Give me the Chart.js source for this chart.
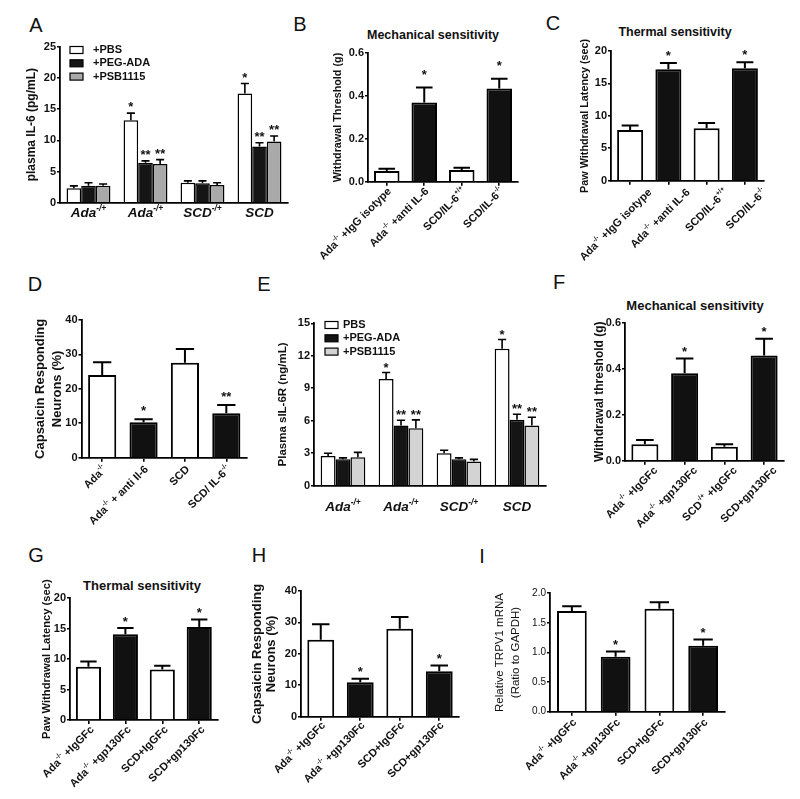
<!DOCTYPE html>
<html lang="en">
<head>
    <meta charset="UTF-8">
    <title>IL-6 signalling panels</title>
    <script src="https://cdn.jsdelivr.net/npm/chart.js"></script>
    <style>
        body { margin: 0; background: #fff; }
        #fig {
            position: relative;
            width: 800px;
            height: 799px;
            background: #fff;
            font-family: 'Liberation Sans', Arial, sans-serif;
            color: #111;
            overflow: hidden;
        }
        #fig canvas { position: absolute; }
        .letter { position: absolute; font-size: 20px; transform: translate(-50%, -50%); }
        .ptitle { position: absolute; font-weight: bold; white-space: nowrap; transform: translate(-50%, -50%); }
    </style>
</head>
<body>
<div id="fig">
    <!-- panel letters -->
    <div class="letter" style="left:36px;top:25px">A</div>
    <div class="letter" style="left:300px;top:24px">B</div>
    <div class="letter" style="left:553px;top:23px">C</div>
    <div class="letter" style="left:35px;top:284px">D</div>
    <div class="letter" style="left:264px;top:284px">E</div>
    <div class="letter" style="left:559px;top:282px">F</div>
    <div class="letter" style="left:36px;top:555px">G</div>
    <div class="letter" style="left:259px;top:555px">H</div>
    <div class="letter" style="left:482px;top:556px">I</div>

    <!-- panel titles -->
    <div class="ptitle" style="left:433px;top:35px;font-size:12.5px">Mechanical sensitivity</div>
    <div class="ptitle" style="left:675px;top:32px;font-size:12.5px">Thermal sensitivity</div>
    <div class="ptitle" style="left:695px;top:305px;font-size:13px">Mechanical sensitivity</div>
    <div class="ptitle" style="left:142px;top:585px;font-size:13px">Thermal sensitivity</div>
</div>

<script>
    // ---- data ----
    // A: plasma IL-6
    var groupLabels = ['Ada^{-/+}', 'Ada^{-/+}', 'SCD^{-/+}', 'SCD'];
    var aPbs = [2.3, 13.2, 3.2, 17.5];
    var aPbsErr = [0.4, 1.15, 0.3, 1.6];
    var aPeg = [2.7, 6.4, 3.1, 9.0];
    var aPegErr = [0.5, 0.3, 0.4, 0.6];
    var aPsb = [2.7, 6.2, 2.85, 9.8];
    var aPsbErr = [0.3, 0.7, 0.35, 0.9];
    var aPbsStars = ['', '*', '', '*'];
    var aDrugStars = ['', '**', '', '**'];

    // B + C: anti IL-6 / IL-6 knockout
    var il6Labels = ['Ada^{-/-} +IgG isotype', 'Ada^{-/-} +anti IL-6', 'SCD/IL-6^{+/+}', 'SCD/IL-6^{-/-}'];
    var bVals = [0.05, 0.37, 0.055, 0.436];
    var bErr = [0.011, 0.07, 0.01, 0.045];
    var cVals = [7.8, 17.2, 8.1, 17.35];
    var cErr = [0.7, 0.95, 0.8, 0.9];
    var oddStars = ['', '*', '', '*'];

    // D: capsaicin responding neurons
    var dLabels = ['Ada^{-/-}', 'Ada^{-/-} + anti Il-6', 'SCD', 'SCD/ IL-6^{-/-}'];
    var dVals = [24.0, 10.3, 27.6, 12.9];
    var dErr = [3.7, 0.9, 4.0, 2.4];
    var dStars = ['', '*', '', '**'];

    // E: plasma sIL-6R
    var ePbs = [2.75, 9.85, 3.0, 12.65];
    var ePbsErr = [0.25, 0.6, 0.28, 0.85];
    var ePeg = [2.45, 5.55, 2.45, 6.1];
    var ePegErr = [0.12, 0.5, 0.12, 0.5];
    var ePsb = [2.63, 5.3, 2.23, 5.55];
    var ePsbErr = [0.45, 0.78, 0.2, 0.77];

    // F - I: gp130Fc
    var fLabels = ['Ada^{-/-} +IgGFc', 'Ada^{-/-} +gp130Fc', 'SCD^{-/+} +IgGFc', 'SCD+gp130Fc'];
    var gpLabels = ['Ada^{-/-} +IgGFc', 'Ada^{-/-} +gp130Fc', 'SCD+IgGFc', 'SCD+gp130Fc'];
    var fVals = [0.071, 0.38, 0.061, 0.457];
    var fErr = [0.019, 0.064, 0.011, 0.073];
    var gVals = [8.75, 14.1, 8.3, 15.3];
    var gErr = [0.85, 1.0, 0.6, 1.2];
    var hVals = [24.5, 11.0, 28.0, 14.5];
    var hErr = [4.9, 1.1, 3.7, 1.8];
    var iVals = [1.70, 0.93, 1.74, 1.115];
    var iErr = [0.08, 0.085, 0.11, 0.105];

    var FONT = '"Liberation Sans", Arial, sans-serif';
    Chart.defaults.font.family = FONT;
    Chart.defaults.color = '#111';

    // split "Ada^{-/-} +x" into normal / superscript runs
    function splitSup(s) {
        var parts = [], re = /\^\{([^}]*)\}/g, last = 0, m;
        while ((m = re.exec(s)) !== null) {
            if (m.index > last) parts.push({t: s.slice(last, m.index), sup: false});
            parts.push({t: m[1], sup: true});
            last = re.lastIndex;
        }
        if (last < s.length) parts.push({t: s.slice(last), sup: false});
        return parts;
    }

    function drawRich(ctx, text, style, size, align) {
        var parts = splitSup(text);
        var supSize = size * 0.62;
        var total = 0;
        parts.forEach(function(p) {
            ctx.font = style + ' ' + (p.sup ? supSize : size) + 'px ' + FONT;
            p.w = ctx.measureText(p.t).width;
            total += p.w;
        });
        var x = align === 'right' ? -total : -total / 2;
        ctx.textAlign = 'left';
        parts.forEach(function(p) {
            ctx.font = style + ' ' + (p.sup ? supSize : size) + 'px ' + FONT;
            ctx.fillText(p.t, x, p.sup ? -size * 0.38 : 0);
            x += p.w;
        });
    }

    // error bars (upper only), asterisks, category labels and legend
    var extrasPlugin = {
        id: 'panelExtras',
        afterDatasetsDraw: function(chart, args, opts) {
            var ctx = chart.ctx, yS = chart.scales.y, xS = chart.scales.x, area = chart.chartArea;
            ctx.save();
            ctx.fillStyle = '#111';
            chart.data.datasets.forEach(function(ds, di) {
                var meta = chart.getDatasetMeta(di);
                meta.data.forEach(function(bar, i) {
                    var top = yS.getPixelForValue(ds.data[i] + ds.errorBars[i]);
                    var half = bar.width * opts.capRatio / 2;
                    ctx.strokeStyle = '#000';
                    ctx.lineWidth = opts.errWidth;
                    ctx.beginPath();
                    ctx.moveTo(bar.x, bar.y);
                    ctx.lineTo(bar.x, top);
                    ctx.moveTo(bar.x - half, top);
                    ctx.lineTo(bar.x + half, top);
                    ctx.stroke();
                    if (ds.stars && ds.stars[i]) {
                        ctx.font = 'bold 13px ' + FONT;
                        ctx.textAlign = 'center';
                        ctx.textBaseline = 'alphabetic';
                        ctx.fillText(ds.stars[i], bar.x, top - opts.starLift);
                    }
                });
            });

            var xl = opts.xlab;
            ctx.textBaseline = 'middle';
            chart.data.labels.forEach(function(lab, i) {
                var cx = xS.getPixelForValue(i);
                ctx.save();
                if (xl.rotate) {
                    ctx.translate(cx + xl.dx, area.bottom + xl.dy);
                    ctx.rotate(-Math.PI / 4);
                    drawRich(ctx, lab, xl.style, xl.size, 'right');
                } else {
                    ctx.translate(cx, area.bottom + xl.dy);
                    drawRich(ctx, lab, xl.style, xl.size, 'center');
                }
                ctx.restore();
            });

            if (opts.legend) {
                var lg = opts.legend;
                chart.data.datasets.forEach(function(ds, di) {
                    var bx = area.left + lg.dx, by = area.top + lg.dy + di * lg.rowH;
                    ctx.fillStyle = ds.backgroundColor;
                    ctx.fillRect(bx, by - 3.5, 13, 7);
                    ctx.strokeStyle = '#000';
                    ctx.lineWidth = 1.2;
                    ctx.strokeRect(bx, by - 3.5, 13, 7);
                    ctx.fillStyle = '#111';
                    ctx.font = 'bold 11px ' + FONT;
                    ctx.textAlign = 'left';
                    ctx.textBaseline = 'middle';
                    ctx.fillText(ds.label, bx + 13 + lg.gap, by);
                });
            }
            ctx.restore();
        }
    };

    // one chart per panel; plot = wanted plot-area edges in page pixels
    function makePanel(cfg) {
        var box = cfg.box, plot = cfg.plot;
        var cv = document.createElement('canvas');
        cv.width = box.r - box.l;
        cv.height = box.b - box.t;
        cv.style.left = box.l + 'px';
        cv.style.top = box.t + 'px';
        document.getElementById('fig').appendChild(cv);

        var tf = cfg.yTitle;
        var lh = tf.size * tf.lh;
        var tickFont = cfg.tickFont || {size: 11, weight: 'bold'};

        new Chart(cv, {
            type: 'bar',
            data: {labels: cfg.labels, datasets: cfg.datasets},
            options: {
                responsive: false,
                animation: false,
                events: [],
                layout: {padding: {left: 0, top: plot.y0 - box.t, right: box.r - plot.x1, bottom: 0}},
                scales: {
                    x: {
                        offset: true,
                        grid: {display: true, offset: false, drawOnChartArea: false, drawTicks: cfg.xTicks, tickLength: 4, color: '#000', lineWidth: 1.6},
                        border: {color: '#000', width: 1.8},
                        ticks: {display: false},
                        afterFit: function(s) { s.height = box.b - plot.y1; }
                    },
                    y: {
                        min: 0,
                        max: cfg.yMax,
                        grid: {drawOnChartArea: false, drawTicks: true, tickLength: 3, color: '#000', lineWidth: 1.6},
                        border: {color: '#000', width: 1.8},
                        ticks: {
                            stepSize: cfg.yStep,
                            padding: 1,
                            color: '#111',
                            font: tickFont,
                            callback: function(v) { return cfg.yDec ? v.toFixed(cfg.yDec) : v; }
                        },
                        title: {
                            display: true,
                            text: tf.text,
                            color: '#111',
                            font: {size: tf.size, weight: tf.weight, lineHeight: tf.lh},
                            padding: {top: tf.x - box.l - lh / 2, bottom: 0}
                        },
                        afterFit: function(s) { s.width = plot.x0 - box.l; }
                    }
                },
                plugins: {
                    legend: {display: false},
                    tooltip: {enabled: false},
                    panelExtras: cfg.extras
                }
            },
            plugins: [extrasPlugin]
        });
    }

    function pairedBars(vals, errs, stars) {
        return [{
            data: vals,
            errorBars: errs,
            stars: stars,
            backgroundColor: ['#ffffff', '#111111', '#ffffff', '#111111'],
            borderColor: '#000',
            borderWidth: 2,
            barPercentage: 0.68,
            categoryPercentage: 1
        }];
    }

    function groupSet(label, vals, errs, stars, colour) {
        return {
            label: label,
            data: vals,
            errorBars: errs,
            stars: stars,
            backgroundColor: colour,
            borderColor: '#000',
            borderWidth: 1.5,
            barPercentage: 1,
            categoryPercentage: 0.77
        };
    }

    var rotLab = function(dx, dy) { return {rotate: true, dx: dx, dy: dy, size: 11, style: 'bold'}; };

    // A
    makePanel({
        box: {l: 10, t: 30, r: 295, b: 228},
        plot: {x0: 60, x1: 288, y0: 46.7, y1: 202.7},
        labels: groupLabels,
        datasets: [
            groupSet('+PBS', aPbs, aPbsErr, aPbsStars, '#ffffff'),
            groupSet('+PEG-ADA', aPeg, aPegErr, aDrugStars, '#151515'),
            groupSet('+PSB1115', aPsb, aPsbErr, aDrugStars, '#a9a9a9')
        ],
        yMax: 25, yStep: 5, xTicks: false,
        yTitle: {text: 'plasma IL-6 (pg/mL)', size: 12, weight: 'bold', lh: 1.2, x: 32},
        extras: {capRatio: 0.55, errWidth: 1.6, starLift: 2,
                 xlab: {rotate: false, dy: 11, size: 13.5, style: 'bold italic'},
                 legend: {dx: 10, dy: 3.3, rowH: 13.3, gap: 10}}
    });

    // B
    makePanel({
        box: {l: 300, t: 40, r: 525, b: 265},
        plot: {x0: 368, x1: 518, y0: 53.3, y1: 181.7},
        labels: il6Labels,
        datasets: pairedBars(bVals, bErr, oddStars),
        yMax: 0.6, yStep: 0.2, yDec: 1, xTicks: true,
        yTitle: {text: 'Withdrawal Threshold (g)', size: 10.8, weight: 'bold', lh: 1.2, x: 338},
        extras: {capRatio: 0.65, errWidth: 2, starLift: 9, xlab: rotLab(3, 8)}
    });

    // C
    makePanel({
        box: {l: 545, t: 38, r: 775, b: 265},
        plot: {x0: 611, x1: 764, y0: 51, y1: 180.7},
        labels: il6Labels,
        datasets: pairedBars(cVals, cErr, oddStars),
        yMax: 20, yStep: 5, xTicks: true,
        yTitle: {text: 'Paw Withdrawal Latency (sec)', size: 10.8, weight: 'bold', lh: 1.2, x: 585},
        extras: {capRatio: 0.65, errWidth: 2, starLift: 3, xlab: rotLab(20, 10)}
    });

    // D
    makePanel({
        box: {l: 10, t: 300, r: 255, b: 535},
        plot: {x0: 81.5, x1: 247, y0: 320, y1: 457.7},
        labels: dLabels,
        datasets: pairedBars(dVals, dErr, dStars),
        yMax: 40, yStep: 10, xTicks: true,
        yTitle: {text: ['Capsaicin Responding', 'Neurons (%)'], size: 13, weight: 'bold', lh: 1.28, x: 40.7},
        extras: {capRatio: 0.65, errWidth: 2, starLift: 4, xlab: rotLab(3, 10)}
    });

    // E
    makePanel({
        box: {l: 265, t: 300, r: 555, b: 525},
        plot: {x0: 314, x1: 546, y0: 323.3, y1: 485.7},
        labels: groupLabels,
        datasets: [
            groupSet('PBS', ePbs, ePbsErr, aPbsStars, '#ffffff'),
            groupSet('+PEG-ADA', ePeg, ePegErr, aDrugStars, '#151515'),
            groupSet('+PSB1115', ePsb, ePsbErr, aDrugStars, '#d3d3d3')
        ],
        yMax: 15, yStep: 3, xTicks: false,
        yTitle: {text: 'Plasma sIL-6R (ng/mL)', size: 11.5, weight: 'bold', lh: 1.2, x: 283},
        extras: {capRatio: 0.55, errWidth: 1.6, starLift: 1,
                 xlab: {rotate: false, dy: 22, size: 13.5, style: 'bold italic'},
                 legend: {dx: 11, dy: 1.7, rowH: 13.3, gap: 5}}
    });

    // F
    makePanel({
        box: {l: 560, t: 300, r: 795, b: 545},
        plot: {x0: 625, x1: 784, y0: 322.7, y1: 460.7},
        labels: fLabels,
        datasets: pairedBars(fVals, fErr, oddStars),
        yMax: 0.6, yStep: 0.2, yDec: 1, xTicks: true,
        yTitle: {text: 'Withdrawal threshold (g)', size: 12, weight: 'bold', lh: 1.2, x: 600},
        extras: {capRatio: 0.65, errWidth: 2, starLift: 2.5, xlab: rotLab(11, 8)}
    });

    // G
    makePanel({
        box: {l: 10, t: 575, r: 230, b: 795},
        plot: {x0: 70, x1: 217.7, y0: 598.3, y1: 720},
        labels: gpLabels,
        datasets: pairedBars(gVals, gErr, oddStars),
        yMax: 20, yStep: 5, xTicks: true,
        yTitle: {text: 'Paw Withdrawal Latency (sec)', size: 11.2, weight: 'bold', lh: 1.2, x: 46.7},
        extras: {capRatio: 0.65, errWidth: 2, starLift: 2.5, xlab: rotLab(4, 8)}
    });

    // H
    makePanel({
        box: {l: 240, t: 575, r: 470, b: 795},
        plot: {x0: 301, x1: 459, y0: 591, y1: 716.7},
        labels: gpLabels,
        datasets: pairedBars(hVals, hErr, oddStars),
        yMax: 40, yStep: 10, xTicks: true,
        yTitle: {text: ['Capsaicin Responding', 'Neurons (%)'], size: 13, weight: 'bold', lh: 1.1, x: 257.5},
        extras: {capRatio: 0.65, errWidth: 2, starLift: 2.5, xlab: rotLab(3, 7)}
    });

    // I
    makePanel({
        box: {l: 478, t: 575, r: 740, b: 795},
        plot: {x0: 550, x1: 725, y0: 593.3, y1: 711.7},
        labels: gpLabels,
        datasets: pairedBars(iVals, iErr, oddStars),
        yMax: 2, yStep: 0.5, yDec: 1, xTicks: true,
        tickFont: {size: 10, weight: 'normal'},
        yTitle: {text: ['Relative TRPV1 mRNA', '(Ratio to GAPDH)'], size: 11.5, weight: 'normal', lh: 1.4, x: 500},
        extras: {capRatio: 0.65, errWidth: 2, starLift: 2.5, xlab: rotLab(3, 9)}
    });
</script>
</body>
</html>
